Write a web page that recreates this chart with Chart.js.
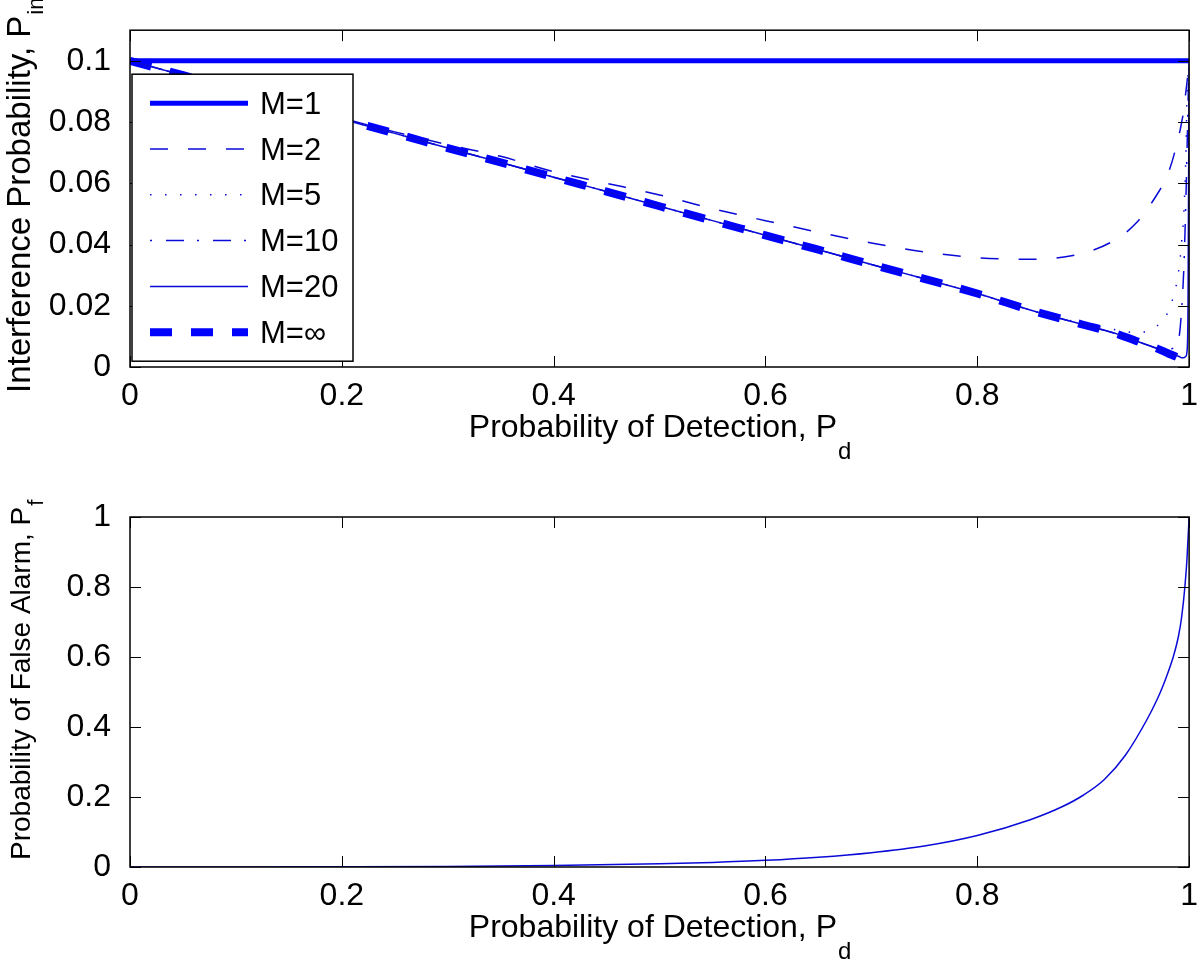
<!DOCTYPE html>
<html>
<head>
<meta charset="utf-8">
<script src="https://cdn.jsdelivr.net/npm/chart.js@4.4.0/dist/chart.umd.min.js"></script>
<style>
  body { margin: 0; background: #fff; }
  #wrap { position: relative; width: 1200px; height: 967px; }
  canvas { position: absolute; left: 0; }
  #top { top: 0; }
  #bottom { top: 460px; }
</style>
</head>
<body>
<div id="wrap">
  <canvas id="top" width="1200" height="460"></canvas>
  <canvas id="bottom" width="1200" height="507"></canvas>
</div>
<script>
// Pd grid shared by all interference curves (denser near 1)
const pdTop = [0, 0.05, 0.1, 0.15, 0.2, 0.25, 0.3, 0.35, 0.4, 0.45, 0.5, 0.55, 0.6, 0.65, 0.7,
  0.75, 0.8, 0.85, 0.9, 0.93, 0.95, 0.97, 0.98, 0.99, 0.993, 0.995, 0.997, 0.998, 0.999, 1];

const pintM1 = [0.1, 0.1, 0.1, 0.1, 0.1, 0.1, 0.1, 0.1, 0.1, 0.1, 0.1, 0.1, 0.1, 0.1, 0.1,
  0.1, 0.1, 0.1, 0.1, 0.1, 0.1, 0.1, 0.1, 0.1, 0.1, 0.1, 0.1, 0.1, 0.1, 0.1];
const pintM2 = [0.1, 0.0953, 0.0906, 0.086, 0.0813, 0.0768, 0.0726, 0.0688, 0.0638, 0.06, 0.0562, 0.0517, 0.0478, 0.044, 0.0405,
  0.0376, 0.0357, 0.0352, 0.0372, 0.0415, 0.047, 0.0565, 0.063, 0.075, 0.08, 0.084, 0.09, 0.093, 0.096, 0.1];
const pintM5 = [0.1, 0.0953, 0.0905, 0.0858, 0.081, 0.0763, 0.0715, 0.0668, 0.062, 0.0573, 0.0525, 0.0478, 0.043, 0.0383, 0.0335,
  0.0288, 0.024, 0.0186, 0.0142, 0.0122, 0.0112, 0.0135, 0.018, 0.031, 0.041, 0.05, 0.07, 0.088, 0.097, 0.1];
const pintM10 = [0.1, 0.0953, 0.0905, 0.0858, 0.081, 0.0763, 0.0715, 0.0668, 0.062, 0.0573, 0.0525, 0.0478, 0.043, 0.0383, 0.0335,
  0.0288, 0.024, 0.0186, 0.0138, 0.011, 0.0085, 0.0062, 0.0058, 0.009, 0.019, 0.032, 0.055, 0.07, 0.086, 0.1];
const pintM20 = [0.1, 0.0953, 0.0905, 0.0858, 0.081, 0.0763, 0.0715, 0.0668, 0.062, 0.0573, 0.0525, 0.0478, 0.043, 0.0383, 0.0335,
  0.0288, 0.024, 0.0186, 0.0138, 0.011, 0.0085, 0.006, 0.0045, 0.0035, 0.003, 0.003, 0.0035, 0.005, 0.02, 0.1];
const pintInf = [0.1, 0.0953, 0.0905, 0.0858, 0.081, 0.0763, 0.0715, 0.0668, 0.062, 0.0573, 0.0525, 0.0478, 0.043, 0.0383, 0.0335,
  0.0288, 0.024, 0.0186, 0.0138, 0.011, 0.0085, 0.006, 0.0045, 0.003, 0.0025, 0.002, 0.0013, 0.001, 0.0007, 0.0002];

// false alarm vs detection
const pdBottom = [0, 0.1, 0.2, 0.3, 0.4, 0.5, 0.55, 0.6, 0.65, 0.7, 0.75, 0.8, 0.85, 0.88, 0.9,
  0.92, 0.94, 0.96, 0.97, 0.975, 0.98, 0.985, 0.99, 0.993, 0.996, 0.998, 1];
const pf = [0, 0, 0.0005, 0.0015, 0.004, 0.009, 0.013, 0.019, 0.028, 0.041, 0.06, 0.09, 0.135, 0.172, 0.205,
  0.25, 0.32, 0.42, 0.48, 0.515, 0.555, 0.6, 0.66, 0.715, 0.8, 0.88, 1];

const xTicks = [0, 0.2, 0.4, 0.6, 0.8, 1];
const xTickLabels = ['0', '0.2', '0.4', '0.6', '0.8', '1'];
const yTicksTop = [0, 0.02, 0.04, 0.06, 0.08, 0.1];
const yTickLabelsTop = ['0', '0.02', '0.04', '0.06', '0.08', '0.1'];
const yTicksBottom = [0, 0.2, 0.4, 0.6, 0.8, 1];
const yTickLabelsBottom = ['0', '0.2', '0.4', '0.6', '0.8', '1'];

const FONT = "'Liberation Sans', Arial, Helvetica, sans-serif";
const BLUE = '#0000ff';
const THIN = '#0a0ad8';

function pts(xs, ys) {
  return xs.map((x, i) => ({ x: x, y: ys[i] }));
}

function axis(ticks, labels, min, max, size, isY) {
  return {
    type: 'linear',
    min: min,
    max: max,
    grid: { display: false },
    border: { display: false },
    afterBuildTicks: s => { s.ticks = ticks.map(v => ({ value: v })); },
    afterFit: s => { if (isY) s.width = size; else s.height = size; },
    ticks: {
      color: '#000',
      font: { family: FONT, size: 32 },
      padding: isY ? 11 : 2,
      maxRotation: 0,
      autoSkip: false,
      callback: (v, i) => labels[i]
    }
  };
}

// box, inward tick marks (MATLAB style) and axis titles with subscripts
const framePlugin = {
  id: 'frame',
  afterDraw(chart, args, opts) {
    const ctx = chart.ctx, a = chart.chartArea, x = chart.scales.x, y = chart.scales.y;
    ctx.save();
    ctx.strokeStyle = '#000';
    ctx.lineWidth = 1;
    ctx.beginPath();
    x.ticks.forEach(t => {
      const px = Math.round(x.getPixelForValue(t.value)) + 0.5;
      ctx.moveTo(px, a.bottom); ctx.lineTo(px, a.bottom - 11);
      ctx.moveTo(px, a.top); ctx.lineTo(px, a.top + 11);
    });
    y.ticks.forEach(t => {
      const py = Math.round(y.getPixelForValue(t.value)) + 0.5;
      ctx.moveTo(a.left, py); ctx.lineTo(a.left + 11, py);
      ctx.moveTo(a.right, py); ctx.lineTo(a.right - 11, py);
    });
    ctx.stroke();
    ctx.lineWidth = 1.5;
    ctx.strokeRect(a.left, a.top, a.right - a.left, a.bottom - a.top);

    ctx.fillStyle = '#000';
    ctx.textAlign = 'left';
    ctx.textBaseline = 'alphabetic';
    // x title
    ctx.font = '32px ' + FONT;
    const xm = ctx.measureText(opts.xTitle).width;
    ctx.font = '24px ' + FONT;
    const xs = ctx.measureText(opts.xSub).width;
    const x0 = (a.left + a.right) / 2 - (xm + xs) / 2;
    const yb = a.bottom + 70;
    ctx.font = '32px ' + FONT;
    ctx.fillText(opts.xTitle, x0, yb);
    ctx.font = '24px ' + FONT;
    ctx.fillText(opts.xSub, x0 + xm + 1, yb + 22);
    // y title, rotated
    ctx.translate(30, a.bottom + opts.yStart);
    ctx.rotate(-Math.PI / 2);
    ctx.font = opts.ySize + 'px ' + FONT;
    const ym = ctx.measureText(opts.yTitle).width;
    ctx.fillText(opts.yTitle, 0, 0);
    ctx.font = '22px ' + FONT;
    ctx.fillText(opts.ySub, ym + 1, 13);
    ctx.restore();
  }
};

// legend box in the upper left corner of the top axes
const boxLegend = {
  id: 'boxLegend',
  afterDraw(chart) {
    const ctx = chart.ctx, a = chart.chartArea;
    const bx = a.left + 2, by = a.top + 44, bw = 221, bh = 287;
    ctx.save();
    ctx.fillStyle = '#fff';
    ctx.fillRect(bx, by, bw, bh);
    ctx.strokeStyle = '#000';
    ctx.lineWidth = 1.5;
    ctx.strokeRect(bx, by, bw, bh);
    ctx.font = '31px ' + FONT;
    ctx.textBaseline = 'middle';
    ctx.fillStyle = '#000';
    chart.data.datasets.forEach((ds, i) => {
      const ry = by + 29 + i * 45.8;
      ctx.save();
      ctx.strokeStyle = ds.borderColor;
      ctx.lineWidth = ds.borderWidth;
      ctx.lineCap = 'butt';
      ctx.setLineDash(ds.borderDash || []);
      ctx.beginPath();
      ctx.moveTo(bx + 18, ry);
      ctx.lineTo(bx + 116, ry);
      ctx.stroke();
      ctx.restore();
      ctx.fillText(ds.label, bx + 128, ry + 2);
    });
    ctx.restore();
  }
};

function line(label, xs, ys, color, width, dash, cap) {
  return {
    label: label,
    data: pts(xs, ys),
    borderColor: color,
    borderWidth: width,
    borderDash: dash,
    borderCapStyle: cap || 'butt',
    pointRadius: 0,
    fill: false,
    cubicInterpolationMode: 'monotone'
  };
}

new Chart(document.getElementById('top'), {
  type: 'line',
  data: {
    datasets: [
      line('M=1', pdTop, pintM1, BLUE, 5, [], 'round'),
      line('M=2', pdTop, pintM2, THIN, 1.5, [18, 20]),
      line('M=5', pdTop, pintM5, THIN, 1.5, [1.5, 13.5]),
      line('M=10', pdTop, pintM10, THIN, 1.5, [2, 14, 18, 13]),
      line('M=20', pdTop, pintM20, THIN, 1.5, []),
      line('M=\u221E', pdTop, pintInf, BLUE, 8, [22, 19])
    ]
  },
  options: {
    responsive: false,
    animation: false,
    devicePixelRatio: 1,
    layout: { padding: { top: 30, right: 9, left: 0, bottom: 0 } },
    plugins: {
      legend: { display: false },
      tooltip: { enabled: false },
      frame: { xTitle: 'Probability of Detection, P', xSub: 'd', yTitle: 'Interference Probability, P', ySub: 'int', yStart: 26, ySize: 33 }
    },
    scales: {
      x: axis(xTicks, xTickLabels, 0, 1, 93, false),
      y: axis(yTicksTop, yTickLabelsTop, 0, 0.11, 130, true)
    }
  },
  plugins: [framePlugin, boxLegend]
});

new Chart(document.getElementById('bottom'), {
  type: 'line',
  data: {
    datasets: [line('Pf', pdBottom, pf, THIN, 1.5, [])]
  },
  options: {
    responsive: false,
    animation: false,
    devicePixelRatio: 1,
    layout: { padding: { top: 57, right: 9, left: 0, bottom: 0 } },
    plugins: {
      legend: { display: false },
      tooltip: { enabled: false },
      frame: { xTitle: 'Probability of Detection, P', xSub: 'd', yTitle: 'Probability of False Alarm, P', ySub: 'f', yStart: -7, ySize: 28 }
    },
    scales: {
      x: axis(xTicks, xTickLabels, 0, 1, 100, false),
      y: axis(yTicksBottom, yTickLabelsBottom, 0, 1, 130, true)
    }
  },
  plugins: [framePlugin]
});
</script>
</body>
</html>
